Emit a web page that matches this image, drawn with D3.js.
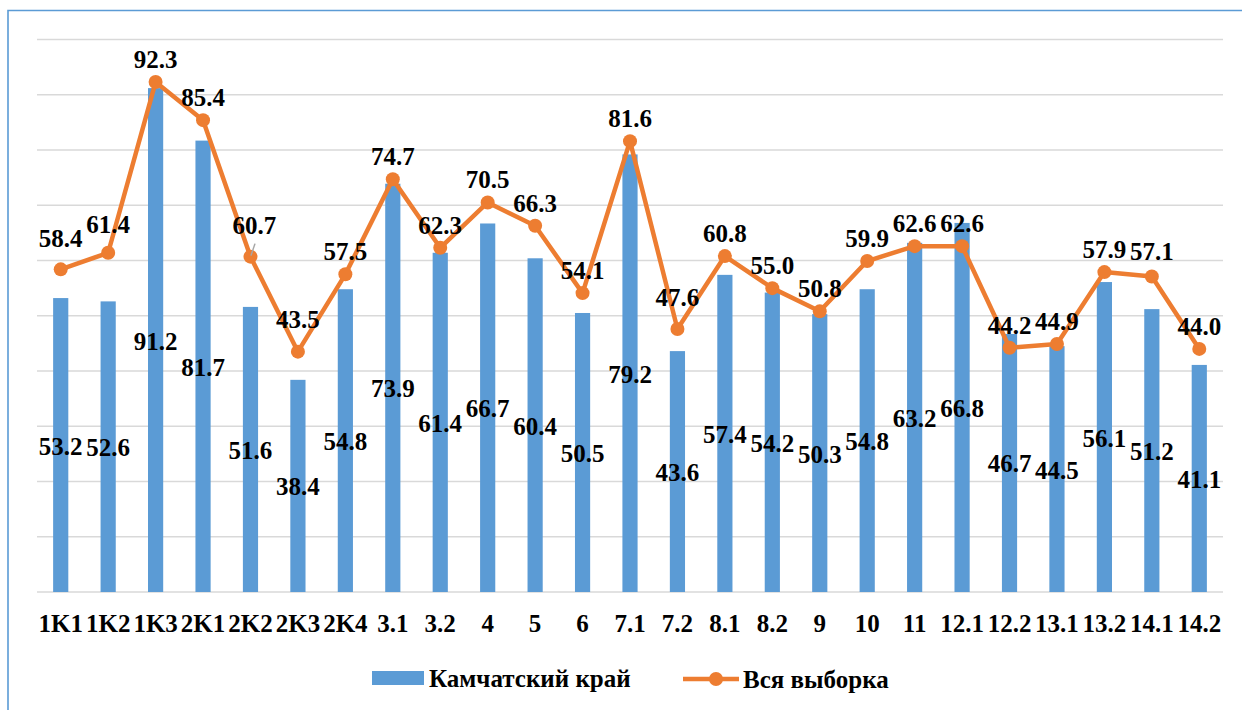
<!DOCTYPE html>
<html>
<head>
<meta charset="utf-8">
<script src="https://cdn.jsdelivr.net/npm/d3@7"></script>
<style>
  body { margin: 0; background: #fff; }
  svg text { font-family: "Liberation Serif", "Tinos", "Times New Roman", "DejaVu Serif", serif !important; font-weight: bold; fill: #000; }
</style>
</head>
<body>
<svg id="chart" width="1242" height="710"></svg>
<script>
// categories and values
let categories = ["1K1","1K2","1K3","2K1","2K2","2K3","2K4","3.1","3.2","4","5","6","7.1","7.2",
                  "8.1","8.2","9","10","11","12.1","12.2","13.1","13.2","14.1","14.2"];
let kamchatka = [53.2,52.6,91.2,81.7,51.6,38.4,54.8,73.9,61.4,66.7,60.4,50.5,79.2,43.6,
                 57.4,54.2,50.3,54.8,63.2,66.8,46.7,44.5,56.1,51.2,41.1];
let allSample = [58.4,61.4,92.3,85.4,60.7,43.5,57.5,74.7,62.3,70.5,66.3,54.1,81.6,47.6,
                 60.8,55.0,50.8,59.9,62.6,62.6,44.2,44.9,57.9,57.1,44.0];
let seriesNames = ["Камчатский край", "Вся выборка"];
let yTicks = [0,10,20,30,40,50,60,70,80,90,100];

// manual label moves as in the original (pixels)
let lineLabelNudge = {"1K1": -8, "1K2": -6, "2K2": -9, "2K3": -10, "7.2": -9, "14.1": -3};

drawChart();

function drawChart(){
  let svg = d3.select("#chart"),
      margin = {top: 39.5, left: 37, right: 19, bottom: 118},
      width = +svg.attr("width") - margin.left - margin.right,
      height = +svg.attr("height") - margin.top - margin.bottom,
      g = svg.append("g").attr("transform", "translate(" + margin.left + "," + margin.top + ")");

  let blue = "#5B9BD5", orange = "#ED7D31";
  let font = "'Liberation Serif', 'Tinos', 'Times New Roman', 'DejaVu Serif', serif";

  // outer frame (left and top edges visible)
  svg.append("path")
    .attr("d", "M8,710V10.5H1242")
    .attr("fill", "none")
    .attr("stroke", blue)
    .attr("stroke-width", 1.6);

  let x = d3.scaleBand()
    .domain(categories)
    .range([0, width])
    .paddingInner(0.68)
    .paddingOuter(0.34);

  let xc = d3.scaleBand()
    .domain(categories)
    .range([0, width])
    .padding(0);

  let y = d3.scaleLinear()
    .domain([0, 100])
    .range([height, 0]);

  // gridlines
  g.append("g")
    .selectAll("line")
    .data(yTicks)
    .enter()
    .append("line")
    .attr("x1", 0)
    .attr("x2", width)
    .attr("y1", d => y(d))
    .attr("y2", d => y(d))
    .attr("stroke", "#D9D9D9")
    .attr("stroke-width", 1.6);

  // bars
  g.selectAll(".bar")
    .data(kamchatka)
    .enter()
    .append("rect")
    .attr("class", "bar")
    .attr("x", (d, i) => x(categories[i]))
    .attr("y", d => y(d))
    .attr("width", x.bandwidth())
    .attr("height", d => height - y(d))
    .style("fill", blue);

  // x axis
  let xAxis = g.append("g")
    .attr("transform", "translate(0," + height + ")")
    .call(d3.axisBottom(xc).tickSize(0).tickPadding(0))
    .attr("font-family", font);
  xAxis.select(".domain").remove();
  xAxis.selectAll("text")
    .attr("y", 40)
    .attr("dy", null)
    .style("font-size", "25px")
    .style("font-family", font)
    .style("font-weight", "bold");

  let cx = c => xc(c) + xc.bandwidth() / 2;

  // line
  let line = d3.line()
    .x((d, i) => cx(categories[i]))
    .y(d => y(d));

  g.append("path")
    .datum(allSample)
    .attr("d", line)
    .attr("fill", "none")
    .attr("stroke", orange)
    .attr("stroke-width", 4.5)
    .attr("stroke-linejoin", "round");

  g.selectAll(".dot")
    .data(allSample)
    .enter()
    .append("circle")
    .attr("class", "dot")
    .attr("cx", (d, i) => cx(categories[i]))
    .attr("cy", d => y(d))
    .attr("r", 7)
    .style("fill", orange);

  // leader line for the moved 2K2 label
  g.append("line")
    .attr("x1", cx("2K2") + 4.5)
    .attr("y1", y(allSample[4]) - 13)
    .attr("x2", cx("2K2") + 0.5)
    .attr("y2", y(allSample[4]) - 1)
    .attr("stroke", "#A6A6A6")
    .attr("stroke-width", 1.5);

  // bar labels, centred in bars
  g.selectAll(".barLabel")
    .data(kamchatka)
    .enter()
    .append("text")
    .attr("class", "barLabel")
    .attr("x", (d, i) => cx(categories[i]))
    .attr("y", d => (y(d) + height) / 2 + 9.5)
    .attr("text-anchor", "middle")
    .style("font-size", "25px")
    .text(d => d.toFixed(1));

  // line labels, above points
  g.selectAll(".lineLabel")
    .data(allSample)
    .enter()
    .append("text")
    .attr("class", "lineLabel")
    .attr("x", (d, i) => cx(categories[i]) + (categories[i] == "2K2" ? 4 : 0))
    .attr("y", (d, i) => y(d) - 14 + (lineLabelNudge[categories[i]] || 0))
    .attr("text-anchor", "middle")
    .style("font-size", "25px")
    .text(d => d.toFixed(1));

  // legend
  let legend = svg.append("g");
  legend.append("rect")
    .attr("x", 372).attr("y", 671)
    .attr("width", 52).attr("height", 14)
    .style("fill", blue);
  legend.append("text")
    .attr("x", 429).attr("y", 687)
    .style("font-size", "25px")
    .text(seriesNames[0]);
  legend.append("line")
    .attr("x1", 683).attr("x2", 739)
    .attr("y1", 679).attr("y2", 679)
    .attr("stroke", orange)
    .attr("stroke-width", 4.5);
  legend.append("circle")
    .attr("cx", 716).attr("cy", 679)
    .attr("r", 7)
    .style("fill", orange);
  legend.append("text")
    .attr("x", 743).attr("y", 688)
    .style("font-size", "25px")
    .text(seriesNames[1]);
}
</script>
</body>
</html>
